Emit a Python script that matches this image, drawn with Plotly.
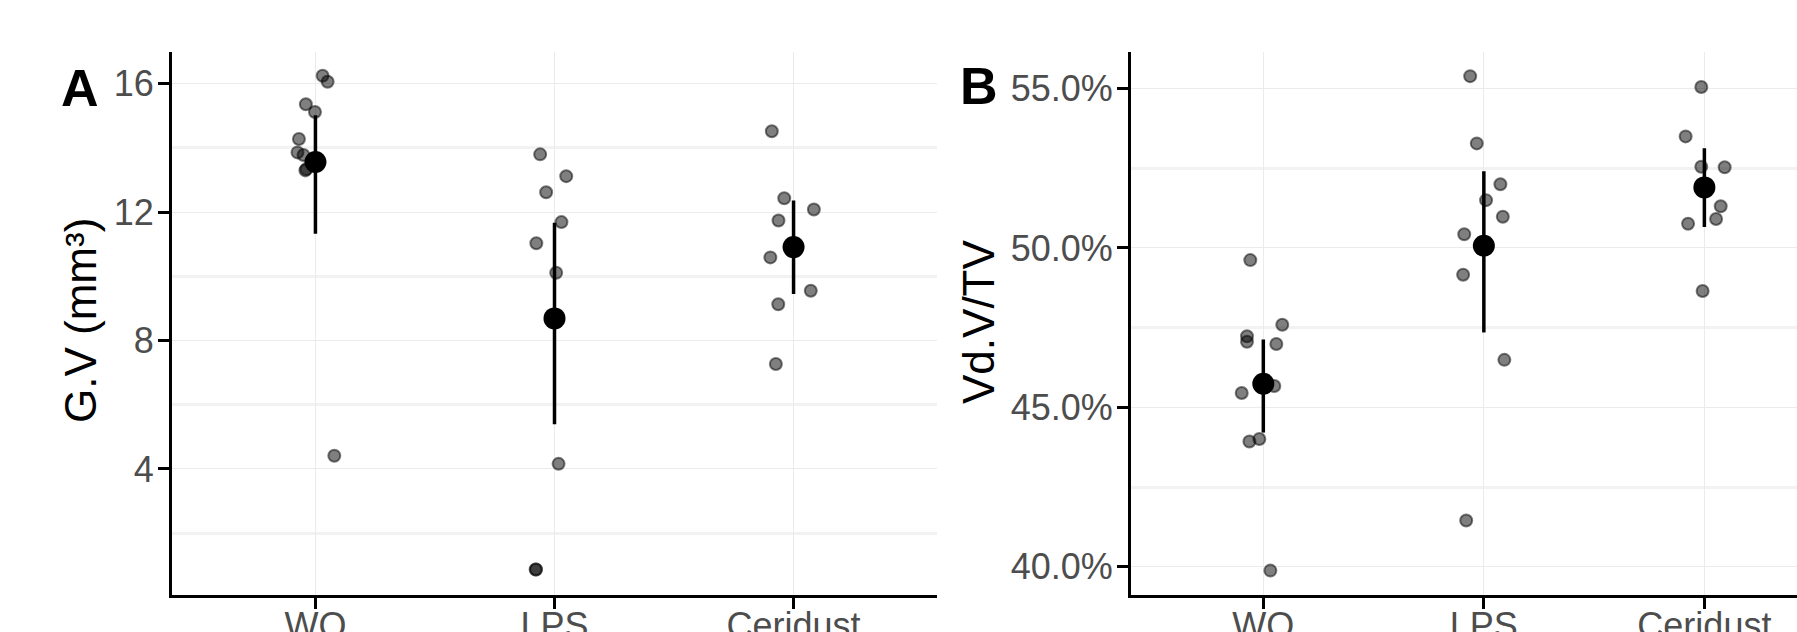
import plotly.graph_objects as go

# ---------------- data ----------------
groups = ["WO", "LPS", "Ceridust"]

# Panel A: G.V (mm3)
gv_wo = [16.25, 16.06, 15.36, 15.12, 14.28, 13.86, 13.78, 13.34, 13.30, 4.41]
gv_wo_jit = [0.030, 0.051, -0.040, -0.002, -0.069, -0.075, -0.050, -0.038, -0.042, 0.079]
gv_lps = [13.80, 13.12, 12.62, 11.69, 11.03, 10.11, 4.16, 0.87, 0.87]
gv_lps_jit = [-0.060, 0.049, -0.035, 0.029, -0.076, 0.007, 0.017, -0.079, -0.077]
gv_cer = [14.52, 12.43, 12.08, 11.74, 10.59, 9.55, 9.13, 7.27]
gv_cer_jit = [-0.091, -0.039, 0.085, -0.063, -0.097, 0.072, -0.064, -0.074]
gv_mean = [13.56, 8.69, 10.91]
gv_low = [11.33, 5.39, 9.45]
gv_high = [15.02, 11.67, 12.36]

# Panel B: Vd.V/TV (%)
vd_wo = [49.62, 47.59, 47.23, 47.06, 46.99, 45.67, 45.45, 43.93, 44.01, 39.88]
vd_wo_jit = [-0.059, 0.086, -0.074, -0.074, 0.059, 0.050, -0.098, -0.063, -0.018, 0.032]
vd_lps = [55.39, 53.28, 52.00, 51.50, 50.98, 50.43, 49.16, 46.49, 41.45]
vd_lps_jit = [-0.062, -0.032, 0.075, 0.010, 0.086, -0.089, -0.094, 0.093, -0.080]
vd_cer = [55.05, 53.50, 52.55, 52.53, 51.31, 50.91, 50.76, 48.65]
vd_cer_jit = [-0.014, -0.085, -0.014, 0.092, 0.074, 0.053, -0.074, -0.008]
vd_mean = [45.74, 50.07, 51.90]
vd_low = [44.21, 47.35, 50.66]
vd_high = [47.13, 52.41, 53.13]

gv_ticks = [4, 8, 12, 16]
gv_minor = [2, 6, 10, 14]
vd_ticks = [40, 45, 50, 55]
vd_minor = [42.5, 47.5, 52.5]

# ---------------- figure ----------------
FONT = "Liberation Sans, Arial, Helvetica, sans-serif"
PT_FILL = "rgba(0,0,0,0.5)"

fig = go.Figure()


def add_panel(values, jitters, means, lows, highs, xa, ya):
    xs, ys = [], []
    for gi, (vals, jit) in enumerate(zip(values, jitters)):
        for v, j in zip(vals, jit):
            xs.append(gi + 1 + j)
            ys.append(v)
    fig.add_trace(go.Scatter(
        x=xs, y=ys, mode="markers", xaxis=xa, yaxis=ya, showlegend=False,
        marker=dict(size=12, color=PT_FILL, line=dict(color=PT_FILL, width=2)),
        hoverinfo="y"))
    fig.add_trace(go.Scatter(
        x=[1, 2, 3], y=means, mode="markers", xaxis=xa, yaxis=ya, showlegend=False,
        marker=dict(size=22, color="black"),
        error_y=dict(type="data", symmetric=False,
                     array=[h - m for h, m in zip(highs, means)],
                     arrayminus=[m - l for m, l in zip(means, lows)],
                     width=0, thickness=3.5, color="black")))


add_panel([gv_wo, gv_lps, gv_cer], [gv_wo_jit, gv_lps_jit, gv_cer_jit],
          gv_mean, gv_low, gv_high, "x", "y")
add_panel([vd_wo, vd_lps, vd_cer], [vd_wo_jit, vd_lps_jit, vd_cer_jit],
          vd_mean, vd_low, vd_high, "x2", "y2")

W, H = 1797, 632
y_dom = [(H - 594.5) / H, (H - 51.6) / H]

xcommon = dict(
    tickvals=[1, 2, 3], ticktext=groups, showgrid=True, gridcolor="#EBEBEB", gridwidth=1,
    zeroline=False, showline=True, linecolor="black", linewidth=3,
    ticks="outside", ticklen=11, tickwidth=3, tickcolor="black", automargin=False,
    ticklabelstandoff=-14,
    tickfont=dict(family=FONT, size=36, color="#4D4D4D"), fixedrange=True)
ycommon = dict(
    showgrid=True, gridcolor="#EBEBEB", gridwidth=1,
    zeroline=False, showline=True, linecolor="black", linewidth=3,
    ticks="outside", ticklen=11, tickwidth=3, tickcolor="black", automargin=False,
    ticklabelstandoff=-3,
    tickfont=dict(family=FONT, size=36, color="#4D4D4D"), fixedrange=True)

fig.update_layout(
    width=W, height=H, margin=dict(l=0, r=0, t=0, b=0, pad=0),
    paper_bgcolor="white", plot_bgcolor="white",
    font=dict(family=FONT),
    xaxis=dict(xcommon, domain=[172 / W, 937 / W], range=[0.4, 3.6], anchor="y"),
    yaxis=dict(ycommon, domain=y_dom, range=[0.09, 17.0], anchor="x",
               tickvals=gv_ticks,
               minor=dict(tickvals=gv_minor, showgrid=True, gridcolor="#F2F2F2",
                          gridwidth=2.5, ticks="")),
    xaxis2=dict(xcommon, domain=[1131 / W, 1.0], range=[0.4, 3.42], anchor="y2"),
    yaxis2=dict(ycommon, domain=y_dom, range=[39.13, 56.16], anchor="x2",
                tickvals=vd_ticks, ticktext=[f"{v:.1f}%" for v in vd_ticks],
                minor=dict(tickvals=vd_minor, showgrid=True, gridcolor="#F2F2F2",
                           gridwidth=2.5, ticks="")),
    annotations=[
        dict(text="<b>A</b>", x=80 / W, y=1 - 88 / H, xref="paper", yref="paper",
             xanchor="center", yanchor="middle", showarrow=False,
             font=dict(family=FONT, size=52, color="black")),
        dict(text="<b>B</b>", x=979 / W, y=1 - 86 / H, xref="paper", yref="paper",
             xanchor="center", yanchor="middle", showarrow=False,
             font=dict(family=FONT, size=52, color="black")),
        dict(text="G.V (mm³)", x=80 / W, y=1 - 321 / H, xref="paper", yref="paper",
             xanchor="center", yanchor="middle", showarrow=False, textangle=-90,
             font=dict(family=FONT, size=44, color="black")),
        dict(text="Vd.V/TV", x=978 / W, y=1 - 322 / H, xref="paper", yref="paper",
             xanchor="center", yanchor="middle", showarrow=False, textangle=-90,
             font=dict(family=FONT, size=44, color="black")),
    ],
)

fig.write_html("out.html", config={"displayModeBar": False},
               post_script="document.body.style.margin='0px';")
